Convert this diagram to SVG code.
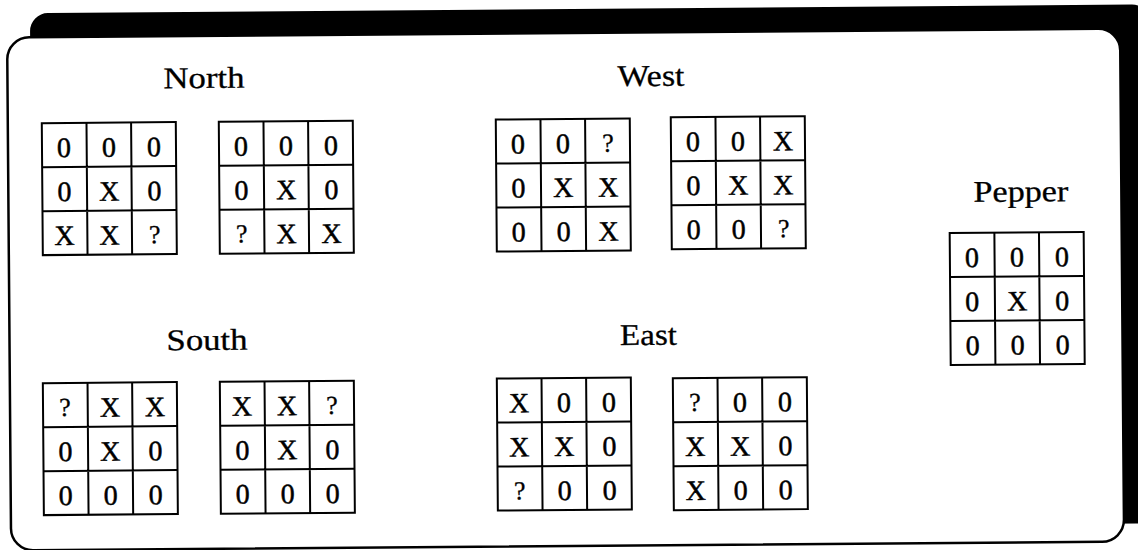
<svg xmlns="http://www.w3.org/2000/svg" xmlns:xlink="http://www.w3.org/1999/xlink" width="1138" height="550" viewBox="0 0 1138 550">
<style>
.t{font-family:"Liberation Serif","Times New Roman",serif;font-size:30px;fill:#000;stroke:#000;stroke-width:0.3}
.c{font-family:"Liberation Serif","Times New Roman",serif;font-size:28px;fill:#000;stroke:#000;stroke-width:0.5;text-anchor:middle}
.q{font-family:"Liberation Serif","Times New Roman",serif;font-size:26px;fill:#000;stroke:#000;stroke-width:0.3;text-anchor:middle}
.gl{fill:none;stroke:#000;stroke-width:2}
</style>
<defs>
<g id="grid">
<rect class="gl" x="0" y="0" width="134" height="132" stroke-width="2.4"/>
<path class="gl" d="M44.7 0V132M89.3 0V132M0 44H134M0 88H134"/>
</g>
</defs>
<rect width="1138" height="550" fill="#fff"/>
<g transform="rotate(-0.45 569 275)">
<g id="frame">
<rect x="32" y="9" width="1120" height="519" rx="18" fill="#000"/>
<rect x="9" y="33" width="1113" height="513" rx="22" fill="#fff" stroke="#000" stroke-width="2.5"/>
</g>
<g id="labels">
<text class="t" x="165" y="85" textLength="81" lengthAdjust="spacingAndGlyphs">North</text>
<text class="t" x="619" y="86.5" textLength="67" lengthAdjust="spacingAndGlyphs">West</text>
<text class="t" x="974" y="205" textLength="95" lengthAdjust="spacingAndGlyphs">Pepper</text>
<text class="t" x="166" y="347" textLength="81" lengthAdjust="spacingAndGlyphs">South</text>
<text class="t" x="619.5" y="345.5" textLength="57" lengthAdjust="spacingAndGlyphs">East</text>
</g>
<g id="north-1" transform="translate(43 119)">
<use href="#grid"/>
<text class="c" x="22" y="34">0</text><text class="c" x="67" y="34">0</text><text class="c" x="112" y="34">0</text>
<text class="c" x="22" y="78">0</text><text class="c" x="67" y="78">X</text><text class="c" x="112" y="78">0</text>
<text class="c" x="22" y="122">X</text><text class="c" x="67" y="122">X</text><text class="q" x="112" y="121">?</text>
</g>
<g id="north-2" transform="translate(220 119)">
<use href="#grid"/>
<text class="c" x="22" y="34">0</text><text class="c" x="67" y="34">0</text><text class="c" x="112" y="34">0</text>
<text class="c" x="22" y="78">0</text><text class="c" x="67" y="78">X</text><text class="c" x="112" y="78">0</text>
<text class="q" x="22" y="121">?</text><text class="c" x="67" y="122">X</text><text class="c" x="112" y="122">X</text>
</g>
<g id="west-1" transform="translate(497 119)">
<use href="#grid"/>
<text class="c" x="22" y="34">0</text><text class="c" x="67" y="34">0</text><text class="q" x="112" y="33">?</text>
<text class="c" x="22" y="78">0</text><text class="c" x="67" y="78">X</text><text class="c" x="112" y="78">X</text>
<text class="c" x="22" y="122">0</text><text class="c" x="67" y="122">0</text><text class="c" x="112" y="122">X</text>
</g>
<g id="west-2" transform="translate(672 118)">
<use href="#grid"/>
<text class="c" x="22" y="34">0</text><text class="c" x="67" y="34">0</text><text class="c" x="112" y="34">X</text>
<text class="c" x="22" y="78">0</text><text class="c" x="67" y="78">X</text><text class="c" x="112" y="78">X</text>
<text class="c" x="22" y="122">0</text><text class="c" x="67" y="122">0</text><text class="q" x="112" y="121">?</text>
</g>
<g id="pepper" transform="translate(950 236)">
<use href="#grid"/>
<text class="c" x="22" y="34">0</text><text class="c" x="67" y="34">0</text><text class="c" x="112" y="34">0</text>
<text class="c" x="22" y="78">0</text><text class="c" x="67" y="78">X</text><text class="c" x="112" y="78">0</text>
<text class="c" x="22" y="122">0</text><text class="c" x="67" y="122">0</text><text class="c" x="112" y="122">0</text>
</g>
<g id="south-1" transform="translate(42 379)">
<use href="#grid"/>
<text class="q" x="22" y="33">?</text><text class="c" x="67" y="34">X</text><text class="c" x="112" y="34">X</text>
<text class="c" x="22" y="78">0</text><text class="c" x="67" y="78">X</text><text class="c" x="112" y="78">0</text>
<text class="c" x="22" y="122">0</text><text class="c" x="67" y="122">0</text><text class="c" x="112" y="122">0</text>
</g>
<g id="south-2" transform="translate(219 379)">
<use href="#grid"/>
<text class="c" x="22" y="34">X</text><text class="c" x="67" y="34">X</text><text class="q" x="112" y="33">?</text>
<text class="c" x="22" y="78">0</text><text class="c" x="67" y="78">X</text><text class="c" x="112" y="78">0</text>
<text class="c" x="22" y="122">0</text><text class="c" x="67" y="122">0</text><text class="c" x="112" y="122">0</text>
</g>
<g id="east-1" transform="translate(496 378)">
<use href="#grid"/>
<text class="c" x="22" y="34">X</text><text class="c" x="67" y="34">0</text><text class="c" x="112" y="34">0</text>
<text class="c" x="22" y="78">X</text><text class="c" x="67" y="78">X</text><text class="c" x="112" y="78">0</text>
<text class="q" x="22" y="121">?</text><text class="c" x="67" y="122">0</text><text class="c" x="112" y="122">0</text>
</g>
<g id="east-2" transform="translate(672 379)">
<use href="#grid"/>
<text class="q" x="22" y="33">?</text><text class="c" x="67" y="34">0</text><text class="c" x="112" y="34">0</text>
<text class="c" x="22" y="78">X</text><text class="c" x="67" y="78">X</text><text class="c" x="112" y="78">0</text>
<text class="c" x="22" y="122">X</text><text class="c" x="67" y="122">0</text><text class="c" x="112" y="122">0</text>
</g>
<g id="connectors"></g>
</g>
</svg>
